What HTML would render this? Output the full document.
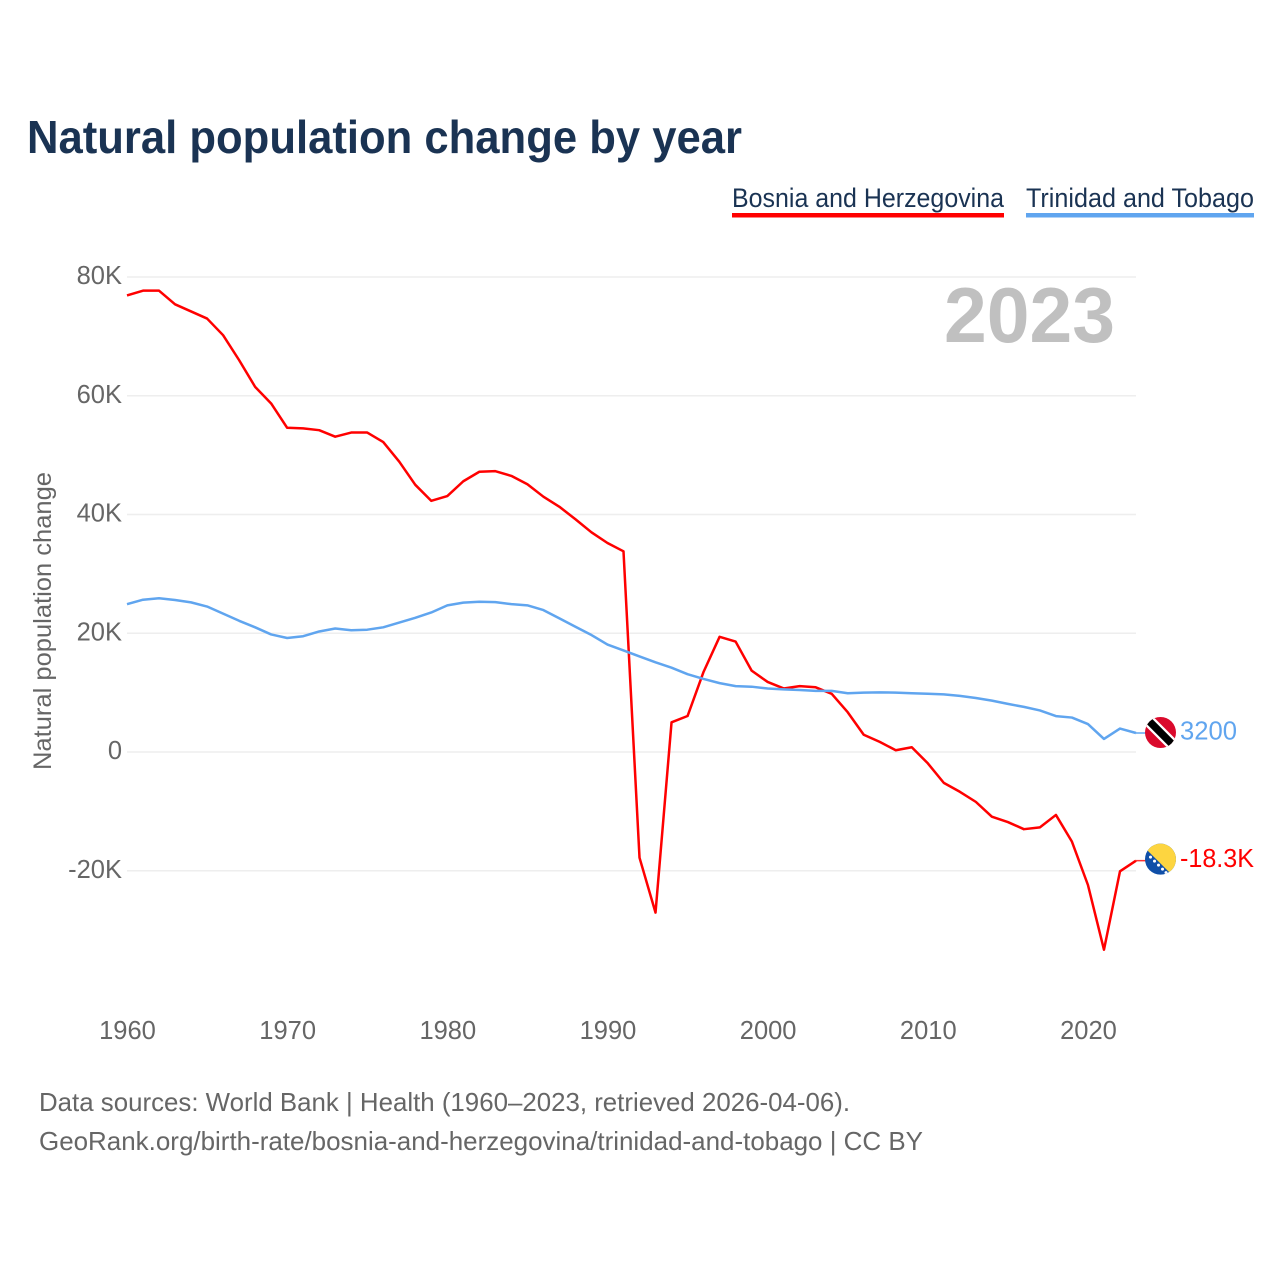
<!DOCTYPE html>
<html lang="en">
<head>
<meta charset="utf-8">
<title>Natural population change by year</title>
<style>
html,body{margin:0;padding:0;background:#fff;width:1280px;height:1280px;overflow:hidden}
svg{display:block}
text{font-family:"Liberation Sans",sans-serif}
</style>
</head>
<body>
<svg id="chart" width="1280" height="1280" viewBox="0 0 1280 1280" xmlns="http://www.w3.org/2000/svg">
  <defs>
    <clipPath id="flag-clip"><circle cx="0" cy="0" r="15.5"></circle></clipPath>
  </defs>
  <rect x="0" y="0" width="1280" height="1280" fill="#ffffff"></rect>
  <text x="27" y="153" font-size="46" font-weight="700" fill="#1a3353" textLength="715" lengthAdjust="spacingAndGlyphs">Natural population change by year</text>

  <g>
    <text x="732" y="207" font-size="26.5" fill="#1a3353" textLength="272" lengthAdjust="spacingAndGlyphs">Bosnia and Herzegovina</text>
    <rect x="732" y="213" width="272" height="4.5" fill="#ff0000"></rect>
  </g>
  <g>
    <text x="1026" y="207" font-size="26.5" fill="#1a3353" textLength="228" lengthAdjust="spacingAndGlyphs">Trinidad and Tobago</text>
    <rect x="1026" y="213" width="228" height="4.5" fill="#60a5ef"></rect>
  </g>

  <g id="grid"></g>
  <g id="y-ticks"></g>
  <g id="x-ticks"></g>

  <text x="1115" y="342" font-size="78" font-weight="700" fill="#c0c0c0" text-anchor="end" textLength="171" lengthAdjust="spacingAndGlyphs">2023</text>
  <text transform="translate(51,770) rotate(-90)" x="0" y="0" font-size="25" fill="#666666" textLength="298" lengthAdjust="spacingAndGlyphs">Natural population change</text>

  <g id="series"></g>

  <g id="flag-trinidad">
    <g clip-path="url(#flag-clip)">
      <rect x="-16" y="-16" width="32" height="32" fill="#da0a2c"></rect>
      <line x1="-16" y1="-16" x2="16" y2="16" stroke="#ffffff" stroke-width="12"></line>
      <line x1="-16" y1="-16" x2="16" y2="16" stroke="#000000" stroke-width="7.5"></line>
    </g>
  </g>
  <g id="flag-bosnia">
    <g clip-path="url(#flag-clip)">
      <rect x="-16" y="-16" width="32" height="32" fill="#0f4fa8"></rect>
      <polygon points="-20.3,-16 16,-16 16,20.3" fill="#fdd540"></polygon>
      <circle cx="-10" cy="-2" r="1.5" fill="#ffffff"></circle>
      <circle cx="-6" cy="2" r="1.5" fill="#ffffff"></circle>
      <circle cx="-2" cy="6" r="1.5" fill="#ffffff"></circle>
      <circle cx="2" cy="10" r="1.5" fill="#ffffff"></circle>
      <circle cx="5.5" cy="13.5" r="1.5" fill="#ffffff"></circle>
    </g>
  </g>
  <text id="value-trinidad" x="1180" font-size="26" fill="#60a5ef" textLength="57" lengthAdjust="spacingAndGlyphs"></text>
  <text id="value-bosnia" x="1180" font-size="26" fill="#ff0000" textLength="74" lengthAdjust="spacingAndGlyphs"></text>

  <text x="39" y="1111" font-size="26" fill="#666666" textLength="811" lengthAdjust="spacingAndGlyphs">Data sources: World Bank | Health (1960–2023, retrieved 2026-04-06).</text>
  <text x="39" y="1150" font-size="26" fill="#666666" textLength="884" lengthAdjust="spacingAndGlyphs">GeoRank.org/birth-rate/bosnia-and-herzegovina/trinidad-and-tobago | CC BY</text>
</svg>
<script>
var years = [1960,1961,1962,1963,1964,1965,1966,1967,1968,1969,1970,1971,1972,1973,1974,1975,1976,1977,1978,1979,1980,1981,1982,1983,1984,1985,1986,1987,1988,1989,1990,1991,1992,1993,1994,1995,1996,1997,1998,1999,2000,2001,2002,2003,2004,2005,2006,2007,2008,2009,2010,2011,2012,2013,2014,2015,2016,2017,2018,2019,2020,2021,2022,2023];
var bosniaValues = [76900,77700,77700,75400,74200,73000,70200,66000,61500,58700,54600,54500,54200,53100,53800,53800,52200,48900,45000,42300,43100,45600,47200,47300,46500,45100,43000,41300,39200,37000,35200,33800,-17800,-27050,5000,6060,13500,19400,18600,13700,11800,10700,11100,10900,9800,6700,2900,1700,300,800,-1900,-5200,-6700,-8400,-10900,-11800,-13000,-12700,-10600,-15100,-22400,-33300,-20100,-18300];
var trinidadValues = [24900,25650,25900,25600,25200,24500,23300,22100,21000,19800,19200,19500,20300,20800,20500,20600,21000,21800,22600,23500,24700,25150,25300,25250,24900,24700,23900,22500,21100,19700,18100,17100,16100,15100,14200,13100,12300,11600,11100,11000,10700,10550,10450,10300,10300,9900,10000,10050,10000,9900,9800,9700,9450,9100,8650,8100,7600,7000,6050,5800,4700,2200,3950,3200];
var yTickValues = [80000,60000,40000,20000,0,-20000];
var yTickLabels = ["80K","60K","40K","20K","0","-20K"];
var xTickValues = [1960,1970,1980,1990,2000,2010,2020];
var xTickLabels = ["1960","1970","1980","1990","2000","2010","2020"];

var SVG_NS = "http://www.w3.org/2000/svg";

function xScale(year) {
  return 127 + (year - 1960) * (1136 - 127) / (2023 - 1960);
}
function yScale(value) {
  return 752 - value * 118.75 / 20000;
}
function formatValue(value) {
  if (Math.abs(value) >= 10000) {
    return (value / 1000).toFixed(1) + "K";
  }
  return String(value);
}
function pathFor(values) {
  var d = "";
  for (var i = 0; i < values.length; i++) {
    d += (i === 0 ? "M" : "L") + xScale(years[i]).toFixed(2) + " " + yScale(values[i]).toFixed(2);
  }
  return d;
}

var gridGroup = document.getElementById("grid");
var yTickGroup = document.getElementById("y-ticks");
var xTickGroup = document.getElementById("x-ticks");
var seriesGroup = document.getElementById("series");

yTickValues.forEach(function (value, i) {
  var line = document.createElementNS(SVG_NS, "line");
  
  
  line.setAttribute("x1", xScale(1960));
  line.setAttribute("x2", xScale(2023));
  line.setAttribute("y1", yScale(value));
  line.setAttribute("y2", yScale(value));
  line.setAttribute("stroke", "#eeeeee");
  line.setAttribute("stroke-width", "1.5");
  gridGroup.appendChild(line);

  var label = document.createElementNS(SVG_NS, "text");
  
  
  label.setAttribute("x", 122);
  label.setAttribute("y", yScale(value) + 7);
  label.setAttribute("text-anchor", "end");
  label.setAttribute("font-size", "25.5");
  label.setAttribute("fill", "#666666");
  label.textContent = yTickLabels[i];
  yTickGroup.appendChild(label);
});

xTickValues.forEach(function (year, i) {
  var label = document.createElementNS(SVG_NS, "text");
  
  
  label.setAttribute("x", xScale(year) + 0.5);
  label.setAttribute("y", 1039);
  label.setAttribute("text-anchor", "middle");
  label.setAttribute("font-size", "25.5");
  label.setAttribute("fill", "#666666");
  label.textContent = xTickLabels[i];
  xTickGroup.appendChild(label);
});

var bosniaLine = document.createElementNS(SVG_NS, "path");


bosniaLine.setAttribute("d", pathFor(bosniaValues));
bosniaLine.setAttribute("fill", "none");
bosniaLine.setAttribute("stroke", "#ff0000");
bosniaLine.setAttribute("stroke-width", "2.5");
bosniaLine.setAttribute("stroke-linejoin", "round");
seriesGroup.appendChild(bosniaLine);

var trinidadLine = document.createElementNS(SVG_NS, "path");


trinidadLine.setAttribute("d", pathFor(trinidadValues));
trinidadLine.setAttribute("fill", "none");
trinidadLine.setAttribute("stroke", "#60a5ef");
trinidadLine.setAttribute("stroke-width", "2.5");
trinidadLine.setAttribute("stroke-linejoin", "round");
seriesGroup.appendChild(trinidadLine);

var bosniaLast = bosniaValues[bosniaValues.length - 1];
var trinidadLast = trinidadValues[trinidadValues.length - 1];
var lastX = xScale(years[years.length - 1]);

var bosniaConnector = document.createElementNS(SVG_NS, "line");


bosniaConnector.setAttribute("x1", lastX);
bosniaConnector.setAttribute("x2", lastX + 10);
bosniaConnector.setAttribute("y1", yScale(bosniaLast));
bosniaConnector.setAttribute("y2", yScale(bosniaLast));
bosniaConnector.setAttribute("stroke", "#ff0000");
bosniaConnector.setAttribute("stroke-width", "1.5");
bosniaConnector.setAttribute("opacity", "0.8");
seriesGroup.appendChild(bosniaConnector);

var trinidadConnector = document.createElementNS(SVG_NS, "line");


trinidadConnector.setAttribute("x1", lastX);
trinidadConnector.setAttribute("x2", lastX + 10);
trinidadConnector.setAttribute("y1", yScale(trinidadLast));
trinidadConnector.setAttribute("y2", yScale(trinidadLast));
trinidadConnector.setAttribute("stroke", "#60a5ef");
trinidadConnector.setAttribute("stroke-width", "1.5");
seriesGroup.appendChild(trinidadConnector);

document.getElementById("flag-bosnia").setAttribute("transform", "translate(" + (lastX + 24.5) + "," + (yScale(bosniaLast) - 1.5) + ")");
document.getElementById("flag-trinidad").setAttribute("transform", "translate(" + (lastX + 24.5) + "," + (yScale(trinidadLast) - 0.5) + ")");

var bosniaValueLabel = document.getElementById("value-bosnia");
bosniaValueLabel.setAttribute("y", yScale(bosniaLast) + 6.5);
bosniaValueLabel.textContent = formatValue(bosniaLast);

var trinidadValueLabel = document.getElementById("value-trinidad");
trinidadValueLabel.setAttribute("y", yScale(trinidadLast) + 6.5);
trinidadValueLabel.textContent = formatValue(trinidadLast);
</script>
</body>
</html>
